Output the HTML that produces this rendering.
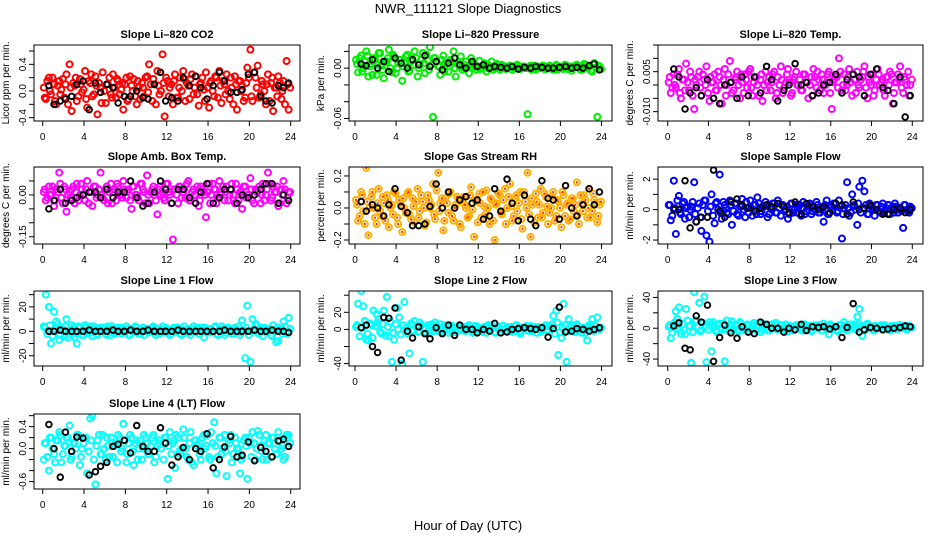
<!DOCTYPE html>
<html><head><meta charset="utf-8"><style>
html,body{margin:0;padding:0;background:#fff}
svg{display:block}
text{font-family:"Liberation Sans",sans-serif;fill:#000}
</style></head><body>
<svg id="chart" width="936" height="540" viewBox="0 0 936 540" xmlns="http://www.w3.org/2000/svg">
<text x="468" y="13" font-size="13" text-anchor="middle">NWR_111121  Slope Diagnostics</text>
<text x="468" y="530" font-size="13" text-anchor="middle">Hour of Day (UTC)</text>
</svg>
<script>
const hours=[0.1,0.3,0.6,0.8,1.1,1.3,1.6,1.8,2.1,2.3,2.6,2.8,3.1,3.3,3.6,3.8,4.1,4.3,4.6,4.8,5.1,5.3,5.6,5.8,6.1,6.3,6.6,6.8,7.1,7.3,7.6,7.8,8.1,8.3,8.6,8.8,9.1,9.3,9.6,9.8,10.1,10.3,10.6,10.8,11.1,11.3,11.6,11.8,12.1,12.3,12.6,12.8,13.1,13.3,13.6,13.8,14.1,14.3,14.6,14.8,15.1,15.3,15.6,15.8,16.1,16.3,16.6,16.8,17.1,17.3,17.6,17.8,18.1,18.3,18.6,18.8,19.1,19.3,19.6,19.8,20.1,20.3,20.6,20.8,21.1,21.3,21.6,21.8,22.1,22.3,22.6,22.8,23.1,23.3,23.6,23.8];
const hours2=[0.2,0.45,0.7,0.95,1.2,1.45,1.7,1.95,2.2,2.45,2.7,2.95,3.2,3.45,3.7,3.95,4.2,4.45,4.7,4.95,5.2,5.45,5.7,5.95,6.2,6.45,6.7,6.95,7.2,7.45,7.7,7.95,8.2,8.45,8.7,8.95,9.2,9.45,9.7,9.95,10.2,10.45,10.7,10.95,11.2,11.45,11.7,11.95,12.2,12.45,12.7,12.95,13.2,13.45,13.7,13.95,14.2,14.45,14.7,14.95,15.2,15.45,15.7,15.95,16.2,16.45,16.7,16.95,17.2,17.45,17.7,17.95,18.2,18.45,18.7,18.95,19.2,19.45,19.7,19.95,20.2,20.45,20.7,20.95,21.2,21.45,21.7,21.95,22.2,22.45,22.7,22.95,23.2,23.45,23.7,23.95];
const blackHours=[0.6,1.1,1.7,2.2,2.8,3.3,3.9,4.5,5.1,5.6,6.2,6.8,7.3,7.9,8.5,9.1,9.7,10.2,10.8,11.4,11.9,12.5,13.1,13.6,14.2,14.8,15.3,15.9,16.5,17.1,17.6,18.2,18.8,19.3,19.9,20.5,21.1,21.6,22.2,22.8,23.3,23.8];
const xTicks=[0,4,8,12,16,20,24];

const co2=[0.05,-0.12,0.2,-0.05,0.1,-0.2,0.15,0.02,-0.1,0.25,0.4,-0.3,0.08,-0.15,0.18,-0.02,0.3,-0.25,0.12,-0.08,0.22,-0.35,0.05,0.28,-0.18,0.1,-0.05,0.25,-0.1,0.15,0.02,-0.28,0.2,-0.12,0.08,0.18,-0.2,0.05,0.12,-0.08,0.22,0.4,-0.15,0.1,0.3,-0.05,0.55,-0.38,0.15,0.05,-0.2,0.25,-0.1,0.2,0.3,-0.15,0.08,0.18,-0.05,0.22,-0.22,0.12,0.02,0.28,-0.25,0.15,-0.08,0.2,0.3,-0.18,0.1,0.25,-0.12,0.05,0.22,-0.28,0.15,0.08,-0.1,0.35,0.62,-0.15,0.2,0.38,-0.05,0.1,-0.2,0.25,0.12,-0.3,0.05,0.22,-0.12,0.15,0.45,-0.28];
const co2B=[-0.1,0.15,0.0,0.2,-0.15,0.08,-0.05,0.18,0.1,-0.2,0.05,0.12,0.2,-0.08,0.1,0.02,-0.12,0.15,0.25,-0.05,0.08,0.12,-0.18,0.0,0.1,0.2,-0.1,0.05,0.18,-0.05,0.12,0.1,-0.15,0.22,0.0,-0.08,0.15,-0.12,0.05,0.2,-0.02,0.1,0.18,-0.2,0.08,0.0,0.12,0.2,-0.08,0.1,0.15,-0.1,0.05,0.0,0.18,0.12,-0.12,0.25,0.05,-0.05,0.1,0.2,-0.15,0.05,0.12,0.0,0.22,-0.1,0.08,0.15,-0.05,0.0,0.2,-0.2,0.1,0.15,0.0,-0.15,0.12,0.2,-0.08,0.28,0.05,-0.1,0.15,0.0,0.1,-0.15,0.2,0.05,-0.08,0.12,0.0,-0.2,0.1,0.05];
const co2Black=[0.08,-0.2,-0.15,-0.12,-0.08,0.1,0.15,-0.28,0.12,-0.02,0.1,0.05,-0.18,-0.08,-0.08,0.0,-0.1,-0.12,0.1,0.28,-0.15,-0.1,-0.15,0.2,0.08,0.22,0.05,-0.12,0.08,0.28,0.15,-0.02,-0.02,0.02,0.25,0.28,-0.08,-0.15,-0.18,0.08,0.05,0.12];
const pres=[0.01,-0.005,0.015,0.0,0.02,-0.01,0.005,0.012,-0.008,0.018,0.003,-0.012,0.008,0.022,-0.005,0.014,0.0,0.01,-0.015,0.006,0.016,-0.003,0.011,0.02,-0.01,0.004,0.018,-0.006,0.009,0.025,-0.058,0.012,0.002,-0.008,0.015,0.006,-0.004,0.01,0.02,-0.01,0.005,0.014,0.0,0.008,-0.006,0.012,0.004,-0.002,0.009,0.001,0.006,-0.004,0.003,0.008,0.0,0.005,-0.002,0.004,0.002,0.0,0.003,-0.002,0.001,0.004,-0.001,0.002,0.0,-0.055,0.003,0.001,-0.002,0.002,0.0,0.003,-0.001,0.002,0.001,-0.002,0.004,0.0,0.002,-0.001,0.003,0.001,-0.003,0.002,0.004,0.0,-0.002,0.005,0.001,0.003,-0.004,0.006,-0.058,0.002];
const presB=[0.005,0.012,-0.004,0.008,0.015,0.002,-0.008,0.01,0.004,0.018,-0.002,0.007,0.012,0.0,0.016,-0.006,0.006,0.01,0.002,0.014,-0.004,0.008,0.004,0.012,0.0,0.01,0.006,0.016,-0.002,0.004,0.012,0.008,0.002,0.01,-0.004,0.006,0.003,0.008,0.0,0.005,0.002,-0.002,0.004,0.001,0.003,0.0,0.002,0.001,-0.001,0.003,0.001,0.0,0.002,-0.002,0.001,0.003,0.0,0.002,-0.001,0.001,0.002,0.0,0.003,-0.001,0.001,0.002,0.0,0.001,-0.002,0.003,0.0,0.001,0.002,-0.001,0.0,0.003,0.001,0.002,-0.002,0.0,0.001,0.004,-0.001,0.002,0.0,0.003,0.001,-0.002,0.002,0.004,0.0,-0.003,0.005,0.001,0.003,-0.001];
const presBlack=[0.005,0.003,0.01,0,0.008,-0.004,0.012,0.006,0,0.01,0.004,0.015,0.002,0.008,-0.002,0.006,0.012,0.004,0,0.008,0.002,0.004,0,0.002,0.001,0,0.002,-0.001,0.001,0,0.002,0.001,0,0,0.001,0.002,0,0.001,0,0.003,0.005,-0.002];
const temp=[0.001,-0.003,0.004,-0.001,0.006,-0.005,0.002,0.008,-0.002,0.003,-0.009,0.0,0.005,-0.004,0.002,0.007,-0.006,0.001,0.004,-0.002,0.003,-0.007,0.006,0.0,0.009,-0.003,0.002,0.005,-0.005,0.001,0.004,-0.001,0.006,-0.004,0.003,0.0,0.002,-0.006,0.005,0.001,-0.002,0.004,-0.005,0.003,0.007,-0.003,0.001,0.006,-0.004,0.002,0.005,0.0,-0.002,0.004,0.001,-0.005,0.003,0.006,-0.001,0.002,0.004,-0.003,0.001,0.005,-0.009,0.002,0.003,0.01,-0.002,0.004,0.0,0.006,-0.004,0.002,0.005,-0.001,0.003,0.007,-0.005,0.001,0.004,-0.002,0.006,0.0,0.002,-0.004,0.003,0.005,-0.007,0.001,0.004,0.007,-0.003,0.002,0.005,0.0];
const tempB=[0.003,-0.001,0.0,0.004,-0.003,0.002,-0.002,0.001,0.005,-0.004,0.002,0.003,-0.001,0.004,0.0,-0.003,0.003,0.001,-0.002,0.005,0.0,0.002,-0.004,0.004,0.001,-0.002,0.003,0.0,0.004,-0.003,0.002,0.005,-0.001,0.001,0.003,-0.004,0.004,0.0,-0.002,0.003,0.001,0.005,-0.003,0.0,0.002,-0.001,0.004,0.001,-0.003,0.003,0.0,0.002,-0.002,0.004,0.001,0.0,-0.004,0.003,0.005,-0.002,0.002,0.0,0.004,-0.003,0.001,0.003,-0.001,0.005,0.0,-0.002,0.003,0.001,0.004,-0.003,0.0,0.002,0.005,-0.001,0.003,0.0,-0.004,0.002,0.004,0.001,-0.002,0.003,0.0,0.004,-0.003,0.001,0.002,-0.001,0.003,0.0,-0.004,0.002];
const tempBlack=[0.006,0.003,-0.009,-0.003,-0.001,-0.004,0.002,-0.005,-0.007,0,0.001,-0.005,0.003,-0.004,0.003,-0.003,0.007,0.002,-0.006,-0.002,0,0.008,0,0.001,-0.004,-0.003,0,0.001,0.004,-0.003,0.002,0.004,0.003,-0.004,0.004,0.006,-0.001,-0.002,-0.007,0.003,-0.012,-0.004];
const amb=[0.01,-0.02,0.03,0.0,-0.04,0.02,0.08,-0.01,0.03,-0.06,0.01,0.02,-0.03,0.04,0.0,0.02,-0.02,0.05,0.01,-0.04,0.03,0.0,0.08,-0.01,0.02,-0.03,0.04,0.01,-0.02,0.03,0.0,0.05,-0.01,0.02,-0.05,0.03,0.0,-0.02,0.04,0.01,0.07,-0.03,0.02,0.0,-0.07,0.03,0.01,-0.02,0.04,0.0,-0.16,0.02,-0.03,0.03,0.01,-0.01,0.05,-0.02,0.02,0.0,-0.04,0.03,0.01,-0.08,0.04,0.0,0.02,-0.03,0.05,0.01,-0.02,0.03,0.0,0.04,-0.03,0.02,0.01,-0.05,0.03,0.0,0.06,-0.02,0.02,0.01,-0.03,0.04,0.0,0.08,-0.02,0.03,0.01,-0.04,0.02,0.05,-0.03,0.01];
const ambB=[0.02,-0.01,0.0,0.03,-0.02,0.01,0.04,-0.03,0.02,0.0,-0.01,0.03,0.01,-0.02,0.04,0.0,0.02,-0.03,0.01,0.03,-0.01,0.02,0.0,-0.02,0.03,0.01,-0.03,0.02,0.04,0.0,-0.01,0.02,0.01,-0.02,0.03,0.0,-0.01,0.04,0.02,-0.03,0.0,0.01,0.03,-0.02,0.02,0.0,-0.01,0.04,0.01,-0.03,0.02,0.0,0.03,-0.01,0.02,0.04,-0.02,0.01,0.0,0.03,-0.02,0.02,0.0,0.01,-0.03,0.04,0.02,-0.01,0.0,0.03,0.01,-0.02,0.02,0.0,0.04,-0.02,0.01,0.03,-0.01,0.0,0.02,-0.03,0.01,0.03,0.0,-0.02,0.02,0.04,-0.01,0.01,0.03,-0.03,0.0,0.02,-0.01,0.01];
const ambBlack=[-0.05,-0.02,0.02,-0.03,-0.02,-0.01,0,0.01,0.01,-0.01,0.02,-0.01,0.01,0.01,0.05,-0.01,-0.04,-0.03,0.01,0.05,0.02,-0.03,0.02,0.02,-0.01,-0.03,0.01,0.04,-0.03,-0.01,0.02,0.02,-0.03,0,-0.01,0,0.02,0.04,0.04,-0.03,0,-0.02];
const rh=[0.05,-0.08,0.1,-0.02,0.25,-0.17,0.07,0.0,-0.1,0.12,-0.05,0.03,0.08,-0.12,0.02,0.1,-0.06,0.05,-0.15,0.0,0.09,-0.04,0.06,-0.09,0.12,-0.02,0.04,-0.11,0.08,0.0,0.15,-0.07,0.22,0.03,-0.14,0.06,-0.03,0.1,-0.08,0.02,0.05,-0.12,0.07,0.0,-0.05,0.13,-0.18,0.04,0.09,-0.06,0.01,0.11,-0.1,0.05,-0.2,0.03,0.08,-0.04,0.12,0.0,0.15,-0.08,0.06,-0.02,0.1,-0.13,0.04,0.22,-0.18,0.02,0.09,-0.06,0.12,-0.03,0.07,-0.1,0.0,0.1,-0.05,0.04,-0.12,0.08,0.02,-0.08,0.06,-0.02,0.16,-0.1,0.03,0.08,-0.06,0.12,-0.02,0.05,-0.09,0.02];
const rhB=[0.02,-0.05,0.08,-0.1,0.04,0.0,0.1,-0.06,0.03,-0.02,0.07,-0.08,0.05,0.0,-0.04,0.09,-0.1,0.02,0.06,-0.03,0.1,-0.07,0.01,0.04,-0.06,0.08,0.0,-0.09,0.05,0.02,-0.04,0.11,-0.02,0.06,-0.08,0.03,0.09,-0.05,0.0,0.07,-0.1,0.04,0.02,-0.06,0.08,-0.01,0.05,-0.09,0.03,0.1,-0.04,0.0,0.06,-0.08,0.02,0.09,-0.03,0.05,-0.1,0.07,0.01,-0.05,0.08,0.03,-0.07,0.1,0.0,-0.04,0.06,-0.09,0.04,0.02,-0.06,0.09,0.01,-0.03,0.07,-0.08,0.05,0.0,0.1,-0.05,0.03,-0.07,0.06,0.02,-0.04,0.08,-0.02,0.05,0.0,-0.06,0.09,0.03,-0.05,0.04];
const rhBlack=[0.04,-0.02,0.02,0,-0.05,0.02,0.12,0.01,-0.03,-0.11,-0.11,-0.1,0.01,0.15,0,0.1,0,0.05,0.07,0.03,0.05,-0.07,-0.05,0.12,-0.02,0.18,0.03,-0.08,0.08,-0.07,-0.11,0.17,0.06,0.05,-0.07,0.14,0,-0.05,0.02,0.12,0.02,0.1];
const flow=[0.3,-0.7,1.9,-1.6,0.9,-0.3,0.5,0.1,-0.5,0.2,1.8,-0.8,0.4,-1.4,0.6,-1.7,-2.1,1.0,-0.9,0.5,2.3,-0.6,0.3,-0.2,0.6,-1.0,0.4,-0.3,0.2,0.7,-0.5,0.1,0.6,-0.4,0.3,0.8,-0.3,0.2,0.5,-0.5,0.1,0.4,-0.2,0.6,-0.4,0.3,0.0,-0.6,0.4,-0.2,0.3,0.1,-0.4,0.5,-0.1,0.3,-0.3,0.2,0.5,-0.2,0.1,-0.8,0.6,-0.3,0.2,0.4,-0.2,0.6,-1.9,0.1,1.8,-0.4,1.0,0.3,-1.0,1.5,1.9,1.2,-0.3,0.4,0.1,-0.4,0.3,-0.2,0.4,-0.1,0.3,-0.3,0.2,0.4,-0.2,0.1,-1.2,0.3,-0.1,0.2];
const flowB=[0.3,-0.4,0.1,0.6,-0.2,0.4,-0.6,0.2,0.0,0.5,-0.3,0.1,-0.5,0.3,0.6,-0.1,0.2,-0.4,0.4,0.0,-0.2,0.5,0.1,-0.3,0.3,-0.1,0.4,-0.4,0.2,0.0,0.5,-0.2,0.1,0.3,-0.3,0.4,-0.1,0.2,0.3,-0.3,0.0,0.4,-0.2,0.1,0.3,-0.1,0.2,-0.3,0.4,0.0,-0.2,0.3,0.1,-0.3,0.2,0.4,-0.1,0.0,0.3,-0.2,0.1,0.3,-0.3,0.2,0.0,0.4,-0.1,0.2,-0.3,0.3,0.1,-0.2,0.2,0.0,0.4,-0.2,0.1,0.3,-0.3,0.2,0.0,0.3,-0.1,0.2,-0.2,0.1,0.3,0.0,-0.2,0.2,0.1,-0.1,0.3,0.0,-0.2,0.1];
const flowBlack=[0,0,1.9,-1.2,-0.8,-0.5,-0.5,2.6,-0.1,-0.5,0.5,0.7,0.3,0.1,-0.1,0.1,0.3,0.2,0.4,0.2,-0.2,0.5,-0.3,0.4,0.2,0,0.2,-0.2,0.4,0.3,-0.3,0.5,0,0.1,0.3,0,-0.3,-0.3,0,0.1,-0.2,0];
const line1=[4,30,20,-10,16,8,-7,3,-4,10,-2,5,-5,-10,3,-3,5,-2,4,-4,2,-3,3,1,-2,4,-3,2,-1,3,-2,1,4,-3,2,-1,3,-2,1,-3,2,0,3,-1,2,-2,4,-1,1,-3,2,0,3,-2,1,-1,2,-3,4,0,-2,3,-5,1,2,-1,3,-2,1,4,-3,2,0,-2,3,1,-3,9,-22,21,-25,10,6,-1,3,-4,2,0,-3,5,-9,-8,2,8,-2,11];
const line1B=[3,-2,5,-4,2,6,-3,1,4,-5,2,3,-2,4,0,-3,3,1,-1,4,-2,2,0,3,-3,1,4,-2,2,0,3,-1,2,-3,1,4,0,-2,3,1,-1,2,4,-3,0,2,-1,3,1,-2,3,0,2,-3,4,1,-1,2,0,3,-2,1,3,-1,2,0,4,-3,1,2,-1,3,0,-2,2,4,-1,1,3,-3,0,2,5,-2,1,3,-1,2,-4,0,3,1,-2,4,0,2];
const line1Black=[0,0,1,0,0,0,0,1,0,0,0,1,0,0,1,0,0,1,0,0,0,0,1,0,0,0,0,0,0,0,1,0,0,0,0,1,0,0,1,0,0,-1];
const line2=[3,30,45,27,-12,-13,5,22,18,12,-5,22,38,-8,-38,-12,25,14,-40,32,-5,-28,6,10,-3,8,-38,2,5,-3,4,8,-2,6,-1,3,-4,5,2,-3,4,-1,3,-2,5,0,-3,4,2,-2,3,-4,1,5,-3,2,0,4,-2,3,1,-3,4,0,-5,2,3,-1,4,-2,1,3,-3,2,5,-1,3,16,22,-30,-10,30,-38,12,5,-3,6,1,-4,2,-13,5,12,-2,14,0];
const line2B=[5,-8,2,10,-5,7,-10,4,8,-3,6,-7,3,9,-4,6,0,-6,5,2,-3,7,-1,4,-2,5,1,-4,3,6,-2,4,0,-3,5,2,-1,4,-3,2,5,0,-2,3,1,-4,4,2,0,-3,3,5,-1,2,-4,3,0,4,-2,1,3,-1,5,-3,2,0,4,-2,1,3,-4,2,0,4,-1,3,6,-5,8,-3,2,5,-2,3,1,-3,4,0,2,-4,3,1,-1,4,0,2];
const line2Black=[2,5,-20,-27,14,13,25,-36,-2,-10,3,-5,-11,2,-5,5,-7,5,0,0,-4,0,-2,7,-4,-3,0,1,2,1,0,2,-9,1,26,-3,-2,1,0,-2,0,2];
const line3=[2,-13,5,22,27,-7,-2,25,3,-45,47,10,33,-2,41,-44,8,-30,3,-5,6,-2,-43,10,-3,9,4,-2,8,2,-3,5,-1,4,-2,3,-5,6,1,-3,4,0,7,-2,3,-1,5,-4,2,-3,4,1,-2,5,-1,3,-4,2,0,4,-3,6,2,-8,3,1,-2,4,0,8,-3,2,1,5,15,25,-10,-3,6,2,-1,3,0,2,-2,4,1,-3,3,2,-1,4,1,0,3,1];
const line3B=[4,-6,8,12,-3,6,-8,10,3,-5,9,2,-4,7,1,-2,5,8,-3,4,0,6,-2,3,5,-1,3,-4,6,1,-2,4,0,7,-3,2,-1,4,2,-3,5,0,3,-2,4,1,-4,3,2,-1,4,0,-3,5,1,3,-2,4,0,2,-3,3,1,5,-1,2,-4,4,0,3,-2,5,1,-2,6,3,-1,4,0,2,-3,3,1,4,0,2,-2,3,1,-1,4,0,2,-2,3,1];
const line3Black=[3,7,-26,-28,16,8,30,-43,-12,4,-6,-13,2,-5,-7,8,5,0,0,-5,0,-2,5,-3,2,1,2,-1,2,-12,1,32,-5,-2,1,0,-2,-1,0,1,3,2];
const line4=[-0.2,0.1,-0.4,0.2,-0.1,0.15,0.3,-0.25,0.05,0.2,0.42,-0.15,0.1,0.25,-0.3,0.0,0.2,-0.45,0.55,0.6,-0.65,0.15,-0.1,0.25,-0.2,0.05,0.2,-0.15,0.1,0.25,-0.05,0.45,-0.25,0.1,0.2,-0.3,0.15,0.0,-0.2,0.25,0.1,-0.1,0.2,-0.25,0.05,0.15,-0.8,0.2,-0.55,0.3,0.1,-0.35,0.2,-0.1,0.35,0.0,-0.2,0.3,-0.3,0.15,0.1,-0.2,0.25,0.05,-0.15,0.3,0.48,-0.45,0.2,-0.1,0.25,-0.5,0.1,-0.25,0.2,0.0,-0.45,-0.15,0.2,-0.55,0.1,0.3,-0.2,0.32,0.05,-0.2,0.25,0.1,-0.15,0.2,-0.1,0.3,0.0,-0.2,0.25,0.25];
const line4B=[0.1,-0.15,0.2,0.0,-0.25,0.15,0.25,-0.1,0.05,0.2,-0.2,0.1,0.0,0.25,-0.15,0.1,0.2,-0.05,0.15,-0.2,0.05,0.25,-0.1,0.0,0.2,-0.15,0.1,0.05,-0.25,0.2,0.0,0.15,-0.1,0.25,-0.05,0.1,-0.2,0.15,0.0,0.2,-0.1,0.05,0.25,-0.15,0.1,0.0,-0.2,0.2,0.05,-0.1,0.15,0.25,-0.05,0.0,0.2,-0.15,0.1,-0.25,0.15,0.05,-0.1,0.2,0.0,0.25,-0.2,0.1,0.05,-0.15,0.2,0.0,-0.05,0.15,0.25,-0.1,0.1,0.0,-0.2,0.15,0.05,0.2,-0.15,0.1,0.0,0.25,-0.05,0.15,-0.2,0.1,0.2,0.0,-0.1,0.15,0.05,-0.15,0.2,0.1];
const line4Black=[0.44,0,-0.52,0.3,-0.05,0.21,0.19,-0.48,-0.42,-0.32,-0.25,0.04,0.08,0.15,-0.08,0.42,0.04,-0.05,-0.05,0.38,0.1,-0.3,-0.15,0.02,-0.2,0,-0.05,0.27,-0.35,-0.2,0.03,0.22,-0.15,-0.12,0.12,-0.22,0.02,-0.05,-0.15,0.14,0.17,0.04];

const cols=[{l:34,r:300,x0:42.7,x1:290.7},{l:349,r:612,x0:355,x1:601.5},{l:658,r:923,x0:667.7,x1:912.3}];
const rows=[{t:45,b:121},{t:167,b:244},{t:291,b:366},{t:414,b:489}];
const panels=[
 {name:'co2',title:'Slope Li\u2013820 CO2',ylab:'Licor ppm per min.',c:0,r:0,ymax:0.69,ymin:-0.45,ticks:[-0.4,-0.2,0,0.2,0.4,0.6],labs:[[-0.4,'-0.4'],[0,'0.0'],[0.4,'0.4']],col:'#ff0000',v:co2,v2:co2B,bv:co2Black},
 {name:'pressure',title:'Slope Li\u2013820 Pressure',ylab:'kPa per min.',c:1,r:0,ymax:0.0276,ymin:-0.063,ticks:[-0.06,-0.04,-0.02,0,0.02],labs:[[-0.06,'-0.06'],[0,'0.00']],col:'#00ee00',v:pres,v2:presB,bv:presBlack},
 {name:'temp',title:'Slope Li\u2013820 Temp.',ylab:'degrees C per min.',c:2,r:0,ymax:0.015,ymin:-0.0135,ticks:[-0.01,-0.005,0,0.005,0.01,0.015],labs:[[-0.01,'-0.010'],[0.005,'0.005']],col:'#ff00ff',v:temp,v2:tempB,bv:tempBlack},
 {name:'amb-box-temp',title:'Slope Amb. Box Temp.',ylab:'degrees C per min.',c:0,r:1,ymax:0.1,ymin:-0.176,ticks:[-0.15,-0.1,-0.05,0,0.05],labs:[[-0.15,'-0.15'],[0,'0.00']],col:'#ff00ff',v:amb,v2:ambB,bv:ambBlack},
 {name:'gas-stream-rh',title:'Slope Gas Stream RH',ylab:'percent per min.',c:1,r:1,ymax:0.256,ymin:-0.225,ticks:[-0.2,-0.1,0,0.1,0.2],labs:[[-0.2,'-0.2'],[0,'0.0'],[0.2,'0.2']],col:'#ffb000',v:rh,v2:rhB,bv:rhBlack,inner:'#ff2200'},
 {name:'sample-flow',title:'Slope Sample Flow',ylab:'ml/min per min.',c:2,r:1,ymax:2.8,ymin:-2.26,ticks:[-2,-1,0,1,2],labs:[[-2,'-2'],[0,'0'],[2,'2']],col:'#0000ff',v:flow,v2:flowB,bv:flowBlack},
 {name:'line1-flow',title:'Slope Line 1 Flow',ylab:'ml/min per min.',c:0,r:2,ymax:33,ymin:-28.4,ticks:[-20,-10,0,10,20,30],labs:[[-20,'-20'],[0,'0'],[20,'20']],col:'#00ffff',v:line1,v2:line1B,bv:line1Black},
 {name:'line2-flow',title:'Slope Line 2 Flow',ylab:'ml/min per min.',c:1,r:2,ymax:44.9,ymin:-42.8,ticks:[-40,-20,0,20,40],labs:[[-40,'-40'],[0,'0'],[20,'20']],col:'#00ffff',v:line2,v2:line2B,bv:line2Black},
 {name:'line3-flow',title:'Slope Line 3 Flow',ylab:'ml/min per min.',c:2,r:2,ymax:48.3,ymin:-49,ticks:[-40,-20,0,20,40],labs:[[-40,'-40'],[0,'0'],[40,'40']],col:'#00ffff',v:line3,v2:line3B,bv:line3Black},
 {name:'line4-flow',title:'Slope Line 4 (LT) Flow',ylab:'ml/min per min.',c:0,r:3,ymax:0.63,ymin:-0.735,ticks:[-0.6,-0.4,-0.2,0,0.2,0.4,0.6],labs:[[-0.6,'-0.6'],[0,'0.0'],[0.4,'0.4']],col:'#00ffff',v:line4,v2:line4B,bv:line4Black}
];
const NS='http://www.w3.org/2000/svg';
const svg=document.getElementById('chart');
function mk(tag,parent,attrs){const e=document.createElementNS(NS,tag);for(const k in attrs)e.setAttribute(k,attrs[k]);parent.appendChild(e);return e;}
panels.forEach(p=>{
 const C=cols[p.c],R=rows[p.r];
 const xs=h=>C.x0+(C.x1-C.x0)*h/24;
 const ys=v=>R.t+(p.ymax-v)/(p.ymax-p.ymin)*(R.b-R.t);
 const g=mk('g',svg,{});
 
 
 const cp=mk('clipPath',g,{id:'cp-'+p.name});
 mk('rect',cp,{x:C.l,y:R.t,width:C.r-C.l,height:R.b-R.t});
 const t=mk('text',g,{x:(C.l+C.r)/2,y:R.t-7,'font-size':11,'font-weight':'bold','text-anchor':'middle'});
 t.textContent=p.title;
 
 
 const yl=mk('text',g,{x:0,y:0,'font-size':10,'text-anchor':'middle',transform:`translate(${C.l-25},${(R.t+R.b)/2}) rotate(-90)`});
 yl.textContent=p.ylab;
 
 
 const pts=mk('g',g,{'clip-path':`url(#cp-${p.name})`});
 
 
 function draw(hs,vals){
  const n=Math.min(hs.length,vals.length);
  for(let i=0;i<n;i++){
   const c=mk('circle',pts,{cx:xs(hs[i]),cy:ys(vals[i]),r:3,fill:'none',stroke:p.col,'stroke-width':2});
   
   
   if(p.inner){mk('circle',pts,{cx:xs(hs[i]),cy:ys(vals[i]),r:1.1,fill:p.inner});}
  }
 }
 draw(hours,p.v);
 draw(hours2,p.v2);
 const bn=Math.min(blackHours.length,p.bv.length);
 for(let i=0;i<bn;i++){
  const c=mk('circle',pts,{cx:xs(blackHours[i]),cy:ys(p.bv[i]),r:2.8,fill:'none',stroke:'#000','stroke-width':1.9});
  
  
 }
 const box=mk('rect',g,{x:C.l,y:R.t,width:C.r-C.l,height:R.b-R.t,fill:'none',stroke:'#000','stroke-width':1});
 
 
 xTicks.forEach(h=>{
  mk('line',g,{x1:xs(h),x2:xs(h),y1:R.b,y2:R.b+5,stroke:'#000'});
  const tl=mk('text',g,{x:xs(h),y:R.b+19,'font-size':10,'text-anchor':'middle'});
  tl.textContent=h;
  
  
 });
 p.ticks.forEach(v=>{const y=ys(v);if(y>=R.t-1&&y<=R.b+1)mk('line',g,{x1:C.l-5,x2:C.l,y1:y,y2:y,stroke:'#000'});});
 p.labs.forEach(([v,s])=>{
  const tl=mk('text',g,{x:0,y:0,'font-size':10,'text-anchor':'middle',transform:`translate(${C.l-8},${ys(v)}) rotate(-90)`});
  tl.textContent=s;
  
  
 });
});
</script>
</body></html>
